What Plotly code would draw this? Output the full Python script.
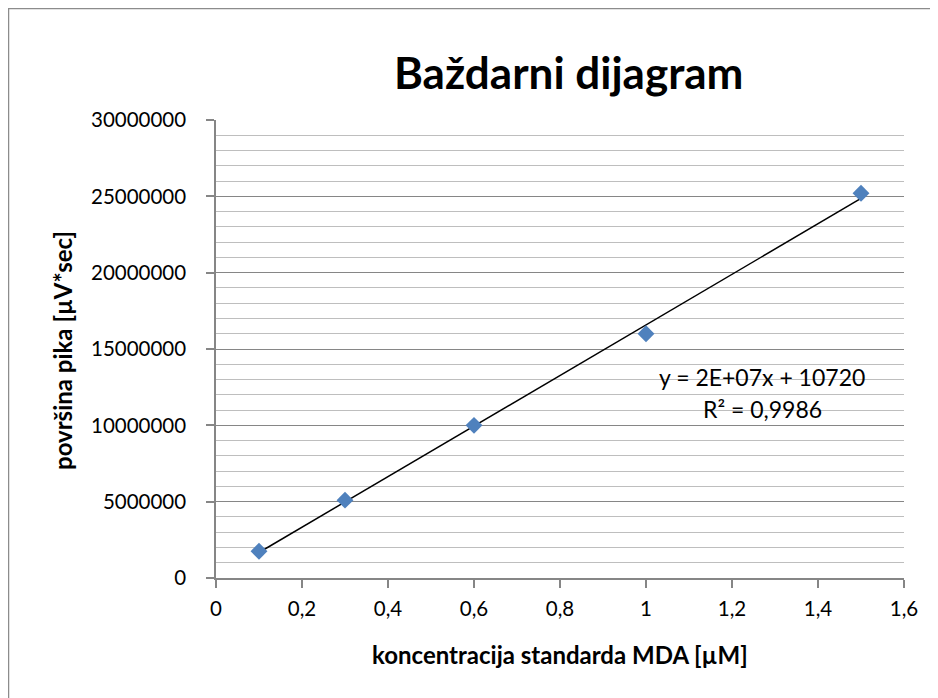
import numpy as np
import plotly.graph_objects as go

# Data
concentration = [0.1, 0.3, 0.6, 1.0, 1.5]
peak_area = [1750000, 5100000, 10000000, 16000000, 25200000]

x_tick_vals = [0, 0.2, 0.4, 0.6, 0.8, 1.0, 1.2, 1.4, 1.6]
x_tick_text = ["0", "0,2", "0,4", "0,6", "0,8", "1", "1,2", "1,4", "1,6"]
y_tick_vals = [0, 5000000, 10000000, 15000000, 20000000, 25000000, 30000000]
y_tick_text = ["0", "5000000", "10000000", "15000000", "20000000", "25000000", "30000000"]

title_text = "Baždarni dijagram"
x_title = "koncentracija standarda MDA [µM]"
y_title = "površina pika [µV*sec]"
eq_text = "y = 2E+07x + 10720"
r2_text = "R² = 0,9986"

FONT = "Lato, Open Sans, sans-serif"

# Linear trendline (least squares)
slope, intercept = np.polyfit(concentration, peak_area, 1)
trend_x = [min(concentration), max(concentration)]
trend_y = [slope * v + intercept for v in trend_x]

fig = go.Figure()
fig.add_trace(go.Scatter(
    x=trend_x, y=trend_y, mode="lines",
    line=dict(color="black", width=1.5),
    hoverinfo="skip", showlegend=False,
))
fig.add_trace(go.Scatter(
    x=concentration, y=peak_area, mode="markers",
    marker=dict(symbol="diamond", size=13, color="#4F81BD",
                line=dict(width=0)),
    showlegend=False,
))

# page has an 8px body margin; work in page pixels and convert
OFF = 8
W, H = 938 - OFF, 698 - OFF
PL, PR, PT, PB = 216, 904, 120, 578   # plot area in page pixels
L, R, T = PL - OFF, (OFF + W) - PR, PT - OFF
B = (OFF + H) - PB
pw, ph = PR - PL, PB - PT

def px_x(px):
    return (px - PL) / pw

def px_y(py):
    return (PB - py) / ph

fig.update_layout(
    width=W, height=H,
    margin=dict(l=L, r=R, t=T, b=B, pad=0),
    paper_bgcolor="white", plot_bgcolor="white",
    font=dict(family=FONT, size=20, color="black"),
    xaxis=dict(
        range=[0, 1.6], tickvals=x_tick_vals, ticktext=x_tick_text,
        showgrid=False, zeroline=False,
        showline=True, linecolor="#868686", linewidth=1.5,
        ticks="outside", ticklen=8, tickcolor="#868686", tickwidth=1.5,
        ticklabelstandoff=4,
        tickfont=dict(family=FONT, size=20.5),
    ),
    yaxis=dict(
        range=[0, 30000000], tickvals=y_tick_vals, ticktext=y_tick_text,
        showgrid=True, gridcolor="#868686", gridwidth=1.3,
        minor=dict(dtick=1000000, showgrid=True, gridcolor="#bebebe",
                   gridwidth=1.3, ticks=""),
        zeroline=False,
        showline=True, linecolor="#868686", linewidth=1.5,
        ticks="outside", ticklen=8, tickcolor="#868686", tickwidth=1.5,
        ticklabelstandoff=16,
        tickfont=dict(family=FONT, size=20.5),
    ),
    shapes=[
        dict(type="rect", xref="paper", yref="paper",
             x0=px_x(8.5), x1=px_x(950), y0=px_y(710), y1=px_y(8.5),
             line=dict(color="#8c8c8c", width=1.5), fillcolor="rgba(0,0,0,0)",
             layer="below"),
    ],
    annotations=[
        dict(text=f"<b>{title_text}</b>", xref="paper", yref="paper",
             x=px_x(568), y=px_y(72), xanchor="center", yanchor="middle",
             showarrow=False, font=dict(family=FONT, size=44, color="black")),
        dict(text=f"<b>{x_title}</b>", xref="paper", yref="paper",
             x=px_x(560), y=px_y(654), xanchor="center", yanchor="middle",
             showarrow=False, font=dict(family=FONT, size=24, color="black")),
        dict(text=f"<b>{y_title}</b>", xref="paper", yref="paper",
             x=px_x(62), y=px_y(351), xanchor="center", yanchor="middle",
             textangle=-90,
             showarrow=False, font=dict(family=FONT, size=24, color="black")),
        dict(text=eq_text, xref="paper", yref="paper",
             x=px_x(762), y=px_y(377), xanchor="center", yanchor="middle",
             showarrow=False, font=dict(family=FONT, size=23, color="black")),
        dict(text=r2_text, xref="paper", yref="paper",
             x=px_x(762), y=px_y(409), xanchor="center", yanchor="middle",
             showarrow=False, font=dict(family=FONT, size=23, color="black")),
    ],
)

fig.write_html("out.html")
